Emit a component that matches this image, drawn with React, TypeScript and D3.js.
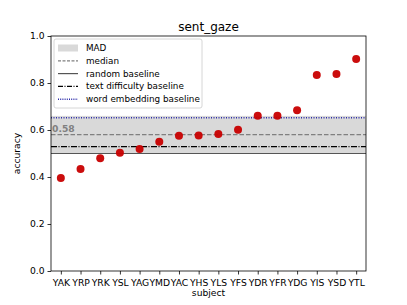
import React, { useEffect, useRef } from 'react';
import * as d3 from 'd3';

const subjects = ['YAK', 'YRP', 'YRK', 'YSL', 'YAG', 'YMD', 'YAC', 'YHS', 'YLS', 'YFS', 'YDR', 'YFR', 'YDG', 'YIS', 'YSD', 'YTL'];
const accuracy = [0.396, 0.434, 0.48, 0.503, 0.519, 0.55, 0.576, 0.577, 0.583, 0.601, 0.661, 0.661, 0.684, 0.834, 0.838, 0.902];
const yTicks = [0.0, 0.2, 0.4, 0.6, 0.8, 1.0];
const medianValue = 0.58;
const madValue = 0.08;
const randomBaseline = 0.5;
const textDifficultyBaseline = 0.529;
const wordEmbeddingBaseline = 0.652;

const App: React.FC = () => {
  const svgRef = useRef<SVGSVGElement>(null);

  useEffect(() => {
    if (!svgRef.current) return;
    const svg = d3.select(svgRef.current);
    svg.selectAll('*').remove();

    const left = 51, right = 366, top = 36, bottom = 271;
    const font = 'DejaVu Sans, sans-serif';

    const x = d3.scaleLinear().domain([-0.5, subjects.length - 0.5]).range([left, right]);
    const y = d3.scaleLinear().domain([0, 1]).range([bottom, top]);

    // MAD band
    svg.append('rect')
      .attr('x', left).attr('width', right - left)
      .attr('y', y(medianValue + madValue))
      .attr('height', y(medianValue - madValue) - y(medianValue + madValue))
      .attr('fill', '#d9d9d9');

    const hline = (v: number, color: string, width: number, dash: string | null) => {
      const l = svg.append('line')
        .attr('x1', left).attr('x2', right)
        .attr('y1', y(v)).attr('y2', y(v))
        .attr('stroke', color).attr('stroke-width', width);
      if (dash) l.attr('stroke-dasharray', dash);
    };

    hline(medianValue, '#808080', 1.2, '4.5,2');
    hline(randomBaseline, '#555555', 1.2, null);
    hline(textDifficultyBaseline, '#000000', 1.2, '6,1.5,1,1.5');
    hline(wordEmbeddingBaseline, '#2a2aa8', 1.4, '1,1.5');

    svg.append('text')
      .attr('x', left + 1).attr('y', y(medianValue) - 3)
      .attr('font-family', font).attr('font-size', 9.2).attr('font-weight', 'bold')
      .attr('fill', '#808080')
      .text(medianValue.toFixed(2));

    // points
    svg.selectAll('.pt')
      .data(accuracy)
      .enter()
      .append('circle')
      .attr('cx', (_, i) => x(i))
      .attr('cy', d => y(d))
      .attr('r', 4)
      .attr('fill', '#c80000')
      .attr('fill-opacity', 0.95);

    // axes
    const xAxis = svg.append('g')
      .attr('transform', `translate(0,${bottom})`)
      .call(d3.axisBottom(x).tickValues(d3.range(subjects.length)).tickFormat(i => subjects[i as number]).tickSize(3.5).tickSizeOuter(0));
    const yAxis = svg.append('g')
      .attr('transform', `translate(${left},0)`)
      .call(d3.axisLeft(y).tickValues(yTicks).tickFormat(d3.format('.1f')).tickSize(3.5).tickSizeOuter(0));
    [xAxis, yAxis].forEach(a => {
      a.select('.domain').remove();
      a.selectAll('text').attr('font-family', font).attr('font-size', 9.2).attr('fill', '#000');
      a.selectAll('line').attr('stroke', '#000').attr('stroke-width', 0.8);
    });
    xAxis.selectAll('text').attr('dy', '0.95em');

    svg.append('rect')
      .attr('x', left).attr('y', top)
      .attr('width', right - left).attr('height', bottom - top)
      .attr('fill', 'none').attr('stroke', '#000').attr('stroke-width', 0.8);

    // legend
    const lg = svg.append('g').attr('transform', 'translate(54,39)');
    lg.append('rect')
      .attr('width', 148).attr('height', 69).attr('rx', 2)
      .attr('fill', '#fff').attr('fill-opacity', 0.8)
      .attr('stroke', '#cccccc').attr('stroke-width', 0.8);
    const items = [
      { label: 'MAD', kind: 'patch' },
      { label: 'median', color: '#808080', dash: '3,1.5', w: 1.2 },
      { label: 'random baseline', color: '#555555', dash: null, w: 1.2 },
      { label: 'text difficulty baseline', color: '#000000', dash: '5,1.5,1,1.5', w: 1.4 },
      { label: 'word embedding baseline', color: '#2a2aa8', dash: '1,1.2', w: 1.4 },
    ];
    items.forEach((it, i) => {
      const yy = 9 + i * 12.8;
      if (it.kind === 'patch') {
        lg.append('rect').attr('x', 4).attr('y', yy - 3.5).attr('width', 20).attr('height', 7).attr('fill', '#d9d9d9');
      } else {
        const l = lg.append('line').attr('x1', 4).attr('x2', 24).attr('y1', yy).attr('y2', yy)
          .attr('stroke', it.color as string).attr('stroke-width', it.w as number);
        if (it.dash) l.attr('stroke-dasharray', it.dash);
      }
      lg.append('text').attr('x', 32).attr('y', yy).attr('dy', '0.35em')
        .attr('font-family', font).attr('font-size', 8.8).attr('fill', '#000')
        .text(it.label);
    });

    svg.append('text')
      .attr('x', (left + right) / 2).attr('y', 31)
      .attr('text-anchor', 'middle')
      .attr('font-family', font).attr('font-size', 12)
      .text('sent_gaze');

    svg.append('text')
      .attr('x', (left + right) / 2).attr('y', 296)
      .attr('text-anchor', 'middle')
      .attr('font-family', font).attr('font-size', 9.2)
      .text('subject');

    svg.append('text')
      .attr('transform', `translate(20,${(top + bottom) / 2}) rotate(-90)`)
      .attr('text-anchor', 'middle')
      .attr('font-family', font).attr('font-size', 9.2)
      .text('accuracy');
  }, []);

  return (
    <svg ref={svgRef} width={407} height={305} style={{ position: 'absolute', left: 0, top: 0, background: '#fff' }} />
  );
};

export default App;
